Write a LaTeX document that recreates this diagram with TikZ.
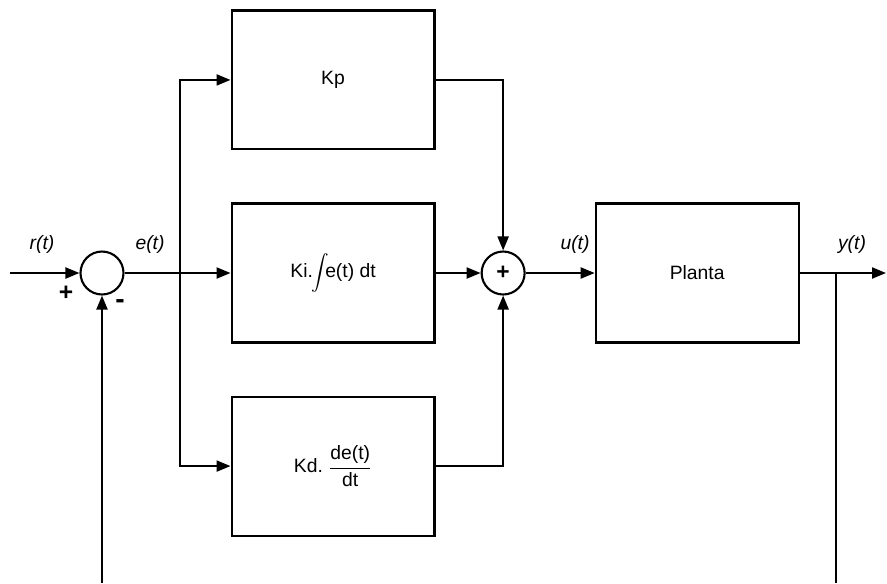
\documentclass[tikz,border=0pt]{standalone}
\usepackage{fontspec}
\setmainfont{Liberation Sans}
\usetikzlibrary{positioning,arrows.meta}

\begin{document}
\begin{tikzpicture}[
  x=0.02cm, y=-0.02cm,
  block/.style={rectangle, draw, line width=1.2pt, minimum width=4.06cm, minimum height=2.78cm, font=\fontsize{11}{13}\selectfont},
  sumc/.style={circle, draw, line width=1.2pt, minimum size=8.6mm, inner sep=0pt},
  sig/.style={font=\fontsize{11}{13}\selectfont\itshape},
  wire/.style={line width=1.2pt},
  arr/.style={wire, -{Triangle[length=2.8mm, width=2.2mm]}},
  node distance=10mm
]
  \useasboundingbox (0,0) rectangle (887,583);
  \node[sumc] (cmp) at (102,273) {};
  \node[block, right=2.12cm of cmp] (Ki) {Ki.\kern-1pt$\displaystyle\int$\kern-2pt e(t) dt};
  \node[block, above=1.04cm of Ki] (Kp) {Kp};
  \node[block, below=1.04cm of Ki] (Kd) {Kd.\ $\displaystyle\frac{\mbox{de(t)}}{\mbox{dt}}$};
  \node[sumc, right=0.9cm of Ki, font=\bfseries\fontsize{13}{13}\selectfont] (sum) {+};
  \node[block, right=1.38cm of sum] (planta) {Planta};
  \coordinate (in) at (10,273);
  \coordinate (br) at (180,273);
  \coordinate (yb) at (836,273);
  \coordinate (out) at (886,273);
  \coordinate (fbA) at (102,583);
  \coordinate (fbB) at (836,583);
  \node[sig] (r) at (42,244) {r(t)};
  \node[sig] (e) at (150,244) {e(t)};
  \node[sig] (u) at (575,244) {u(t)};
  \node[sig] (y) at (852,244) {y(t)};
  \node[font=\bfseries\fontsize{14}{14}\selectfont] (pl) at (66,293) {+};
  \node[font=\bfseries\fontsize{16}{16}\selectfont] (mi) at (120,304) {-};
  \draw[arr] (in) -- (cmp);
  \draw[wire] (cmp) -- (br);
  \draw[arr] (br) -- (Ki);
  \draw[arr] (br) |- (Kp.west);
  \draw[arr] (br) |- (Kd.west);
  \draw[arr] (Kp.east) -| (sum);
  \draw[arr] (Ki) -- (sum);
  \draw[arr] (Kd.east) -| (sum);
  \draw[arr] (sum) -- (planta);
  \draw[arr] (planta) -- (out);
  \draw[wire] (yb) -- (fbB);
  \draw[arr] (fbA) -- (cmp);
\end{tikzpicture}
\end{document}
